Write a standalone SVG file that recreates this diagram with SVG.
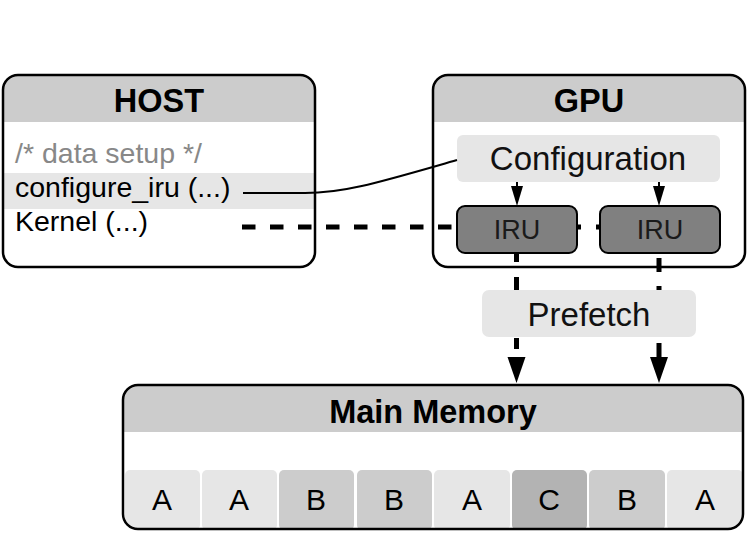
<svg xmlns="http://www.w3.org/2000/svg" width="747" height="535" viewBox="0 0 747 535">
<style>
text{font-family:"Liberation Sans",Arial,sans-serif;}
.title{font-size:32.5px;font-weight:bold;text-anchor:middle;fill:#000;}
.box{fill:none;stroke:#000;stroke-width:2.5;}
.hdr{fill:#cccccc;}
.light{fill:#e6e6e6;}
.code{font-size:28.5px;fill:#000;}
.big{font-size:33px;text-anchor:middle;fill:#111;}
.iru{fill:#808080;stroke:#000;stroke-width:2;}
.irut{font-size:27px;text-anchor:middle;fill:#1a1a1a;}
.cell{font-size:30px;text-anchor:middle;fill:#000;}
.conn{fill:none;stroke:#000;stroke-width:5;}
</style>
<defs>
<clipPath id="cHost"><rect x="3" y="75" width="312" height="192" rx="15"/></clipPath>
<clipPath id="cGpu"><rect x="433" y="75" width="312" height="192" rx="15"/></clipPath>
<clipPath id="cMem"><rect x="123" y="385" width="620" height="144" rx="15"/></clipPath>
</defs>
<rect width="747" height="535" fill="#fff"/>

<g id="host">
<rect x="3" y="75" width="312" height="192" rx="15" fill="#fff"/>
<g clip-path="url(#cHost)">
<rect class="hdr" x="3" y="75" width="312" height="47"/>
<rect class="light" x="3" y="173" width="312" height="36"/>
</g>
<rect class="box" x="3" y="75" width="312" height="192" rx="15"/>
<text class="title" x="159" y="112">HOST</text>
<text class="code" x="15" y="163" style="fill:#888">/* data setup */</text>
<text class="code" x="15" y="197">configure_iru (...)</text>
<text class="code" x="15" y="231">Kernel (...)</text>
</g>

<g id="gpu">
<rect x="433" y="75" width="312" height="192" rx="15" fill="#fff"/>
<g clip-path="url(#cGpu)">
<rect class="hdr" x="433" y="75" width="312" height="47"/>
</g>
<rect class="box" x="433" y="75" width="312" height="192" rx="15"/>
<text class="title" x="589" y="112">GPU</text>
</g>

<g id="configuration">
<rect class="light" x="457" y="135" width="263" height="47" rx="6"/>
<text class="big" x="588" y="170">Configuration</text>
</g>

<g id="connectors">
<path d="M243,193 L305,193 C345,193 380,182 457,160" fill="none" stroke="#000" stroke-width="2"/>
<path class="conn" d="M242,227 H457" stroke-dasharray="13.5 14.5"/>
<path class="conn" d="M577,227 H581 M596,227 H600"/>
<path d="M517,182 V188" stroke="#000" stroke-width="2"/>
<polygon points="511,186 523,186 517,206" fill="#000"/>
<path d="M659,182 V188" stroke="#000" stroke-width="2"/>
<polygon points="653,186 665,186 659,206" fill="#000"/>
<path class="conn" d="M516.5,253 V262 M516.5,277 V290 M516.5,338 V349"/>
<polygon points="507.5,357 525.5,357 516.5,383" fill="#000"/>
<path class="conn" d="M659,258 V272 M659,286 V290 M659,343 V358"/>
<polygon points="650,357 668,357 659,383" fill="#000"/>
</g>

<g id="iru1">
<rect class="iru" x="457" y="206" width="120" height="47" rx="8"/>
<text class="irut" x="517" y="239">IRU</text>
</g>
<g id="iru2">
<rect class="iru" x="600" y="206" width="120" height="47" rx="8"/>
<text class="irut" x="660" y="239">IRU</text>
</g>

<g id="prefetch">
<rect class="light" x="482" y="290" width="214" height="47" rx="7"/>
<text class="big" x="589" y="326">Prefetch</text>
</g>

<g id="memory">
<rect x="123" y="385" width="620" height="144" rx="15" fill="#fff"/>
<g clip-path="url(#cMem)">
<rect class="hdr" x="123" y="385" width="620" height="47"/>
<rect x="125" y="470" width="75" height="60" rx="5" fill="#e6e6e6"/>
<rect x="202" y="470" width="75" height="60" rx="5" fill="#e6e6e6"/>
<rect x="279" y="470" width="75" height="60" rx="5" fill="#cccccc"/>
<rect x="357" y="470" width="75" height="60" rx="5" fill="#cccccc"/>
<rect x="434" y="470" width="76" height="60" rx="5" fill="#e6e6e6"/>
<rect x="512" y="470" width="75" height="60" rx="5" fill="#b3b3b3"/>
<rect x="589" y="470" width="76" height="60" rx="5" fill="#cccccc"/>
<rect x="667" y="470" width="76" height="60" rx="5" fill="#e6e6e6"/>
</g>
<rect class="box" x="123" y="385" width="620" height="144" rx="15"/>
<text class="title" x="433" y="423">Main Memory</text>
<text class="cell" x="162" y="510">A</text>
<text class="cell" x="239" y="510">A</text>
<text class="cell" x="316" y="510">B</text>
<text class="cell" x="394" y="510">B</text>
<text class="cell" x="472" y="510">A</text>
<text class="cell" x="549" y="510">C</text>
<text class="cell" x="627" y="510">B</text>
<text class="cell" x="705" y="510">A</text>
</g>
</svg>
